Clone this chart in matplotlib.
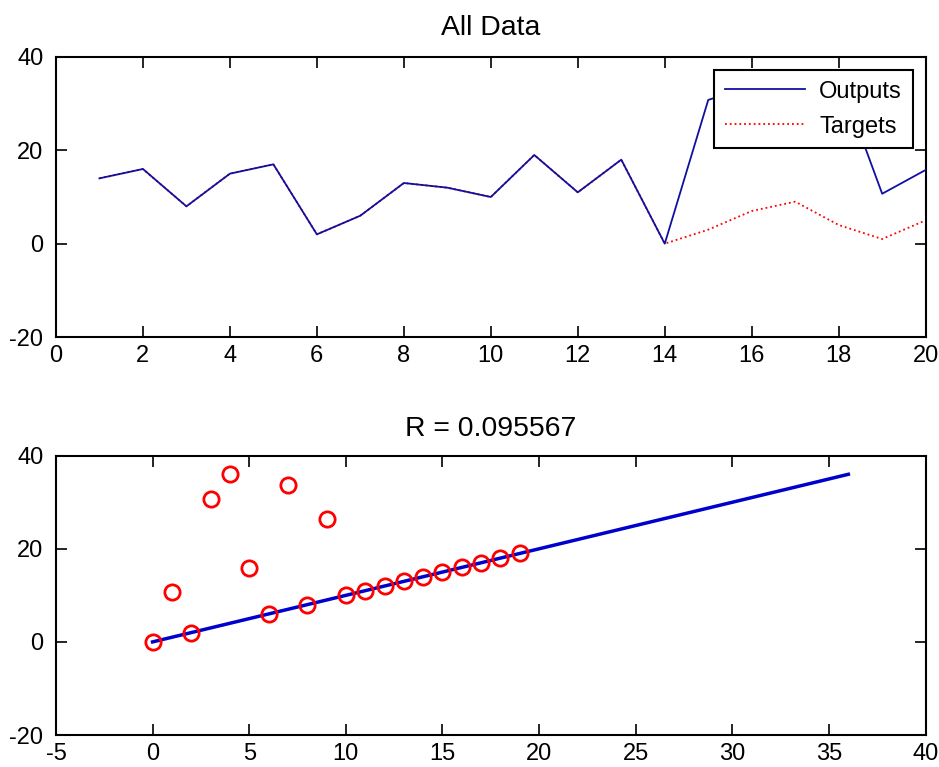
import numpy as np
import matplotlib.pyplot as plt

plt.rcParams['font.family'] = ['Liberation Sans', 'DejaVu Sans']
plt.rcParams['font.size'] = 17
plt.rcParams['axes.unicode_minus'] = False

# time steps and network results
steps = list(range(1, 21))
outputs = [14, 16, 8, 15, 17, 2, 6, 13, 12, 10, 19, 11, 18, 0,
           30.8, 33.8, 26.5, 36, 10.7, 15.8]
targets = [14, 16, 8, 15, 17, 2, 6, 13, 12, 10, 19, 11, 18, 0,
           3, 7, 9, 4, 1, 5]
r_value = 0.095567
fit_x = [0, 36]
fit_y = [0, 36]

fig = plt.figure(figsize=(9.39, 7.67), dpi=100)

def style_axes(ax):
    ax.tick_params(direction='in', length=8, width=1.2, top=True, right=True)
    ax.tick_params(axis='y', pad=9)
    ax.tick_params(axis='x', pad=6)
    for sp in ax.spines.values():
        sp.set_linewidth(1.5)

# top: outputs vs targets over time
ax1 = fig.add_axes([0.0596, 0.5606, 0.9262, 0.3651])
ax1.plot(steps, targets, color='red', linestyle=':', linewidth=1.3, label='Targets', zorder=2)
ax1.plot(steps, outputs, color='#1010a0', linewidth=1.3, label='Outputs', zorder=3)
ax1.set_xlim(0, 20)
ax1.set_ylim(-20, 40)
ax1.set_xticks(range(0, 21, 2))
ax1.set_yticks([-20, 0, 20, 40])
ax1.set_title('All Data', pad=16)
handles, labels = ax1.get_legend_handles_labels()
leg = ax1.legend(handles[::-1], labels[::-1], loc='upper right', fancybox=False,
                 edgecolor='black', framealpha=1, handlelength=3.4,
                 borderaxespad=0.55, labelspacing=0.55, handletextpad=0.6,
                 borderpad=0.45)
leg.get_frame().set_linewidth(1.5)
style_axes(ax1)

# bottom: regression of outputs on targets
ax2 = fig.add_axes([0.0596, 0.0417, 0.9262, 0.3642])
ax2.plot(fit_x, fit_y, color='#0000cc', linewidth=2.5, zorder=2)
ax2.plot(targets, outputs, 'o', markerfacecolor='none', markeredgecolor='red',
         markersize=11, markeredgewidth=2, zorder=3)
ax2.set_xlim(-5, 40)
ax2.set_ylim(-20, 40)
ax2.set_xticks(range(-5, 41, 5))
ax2.set_yticks([-20, 0, 20, 40])
ax2.set_title(f'R = {r_value}', pad=14)
style_axes(ax2)

fig.savefig('out.png', dpi=100)
